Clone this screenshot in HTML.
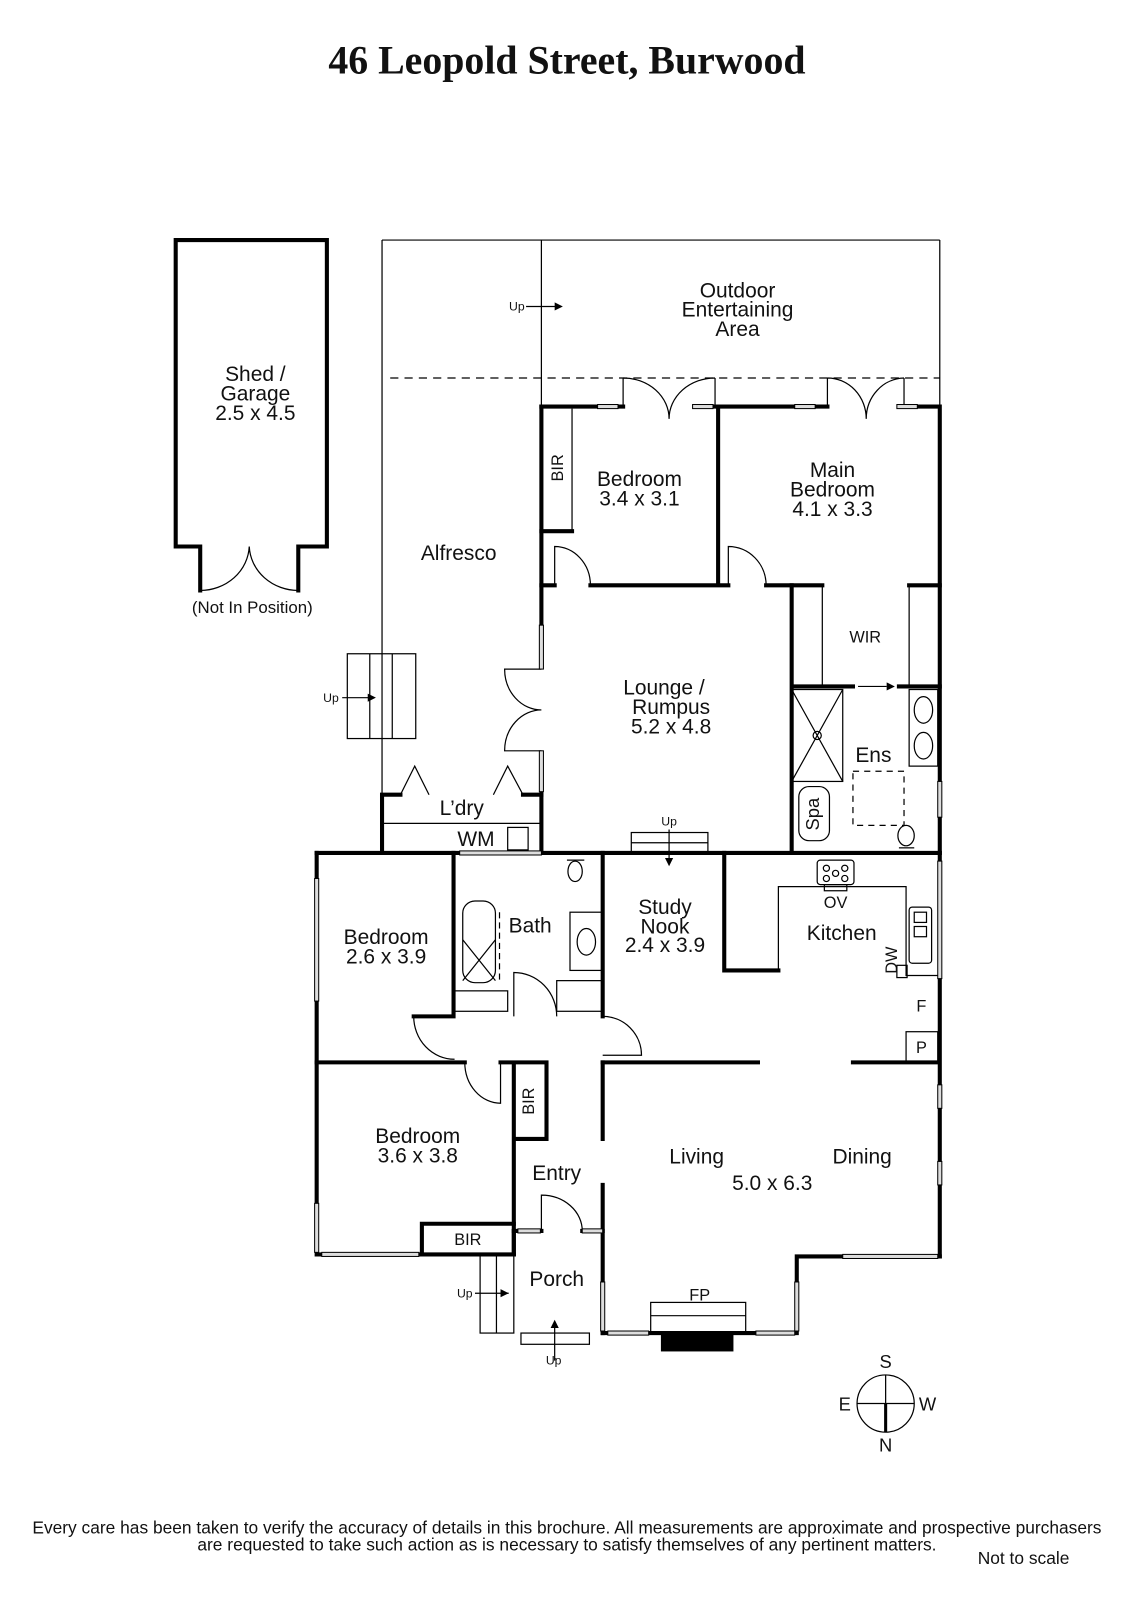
<!DOCTYPE html>
<html><head><meta charset="utf-8"><style>
html,body{margin:0;padding:0;background:#fff;}
svg{display:block}
text{font-family:"Liberation Sans",sans-serif;fill:#111;}
</style></head><body>
<svg width="1131" height="1600" viewBox="0 0 1131 1600" xmlns="http://www.w3.org/2000/svg">
<g transform="scale(1.0215)">
<text x="555" y="72" text-anchor="middle" style="font-family:'Liberation Serif',serif;font-weight:bold;font-size:39px">46 Leopold Street, Burwood</text>

<g fill="none" stroke="#000" stroke-width="4" stroke-linecap="square">
<path d="M196,578 L196,535 L172,535 L172,235 L320,235 L320,535 L292,535 L292,578"/>
</g>
<g fill="none" stroke="#000" stroke-width="1.2">
<path d="M196,578 A48,45 0 0 0 244,535 M292,578 A48,45 0 0 1 244,535"/>
<path d="M374,235 L920,235 M374,235 L374,778 M530,235 L530,398 M920,235 L920,398"/>
<path d="M382,370 L920,370" stroke-dasharray="8,6"/>
<path d="M515,300 L545,300"/>
<rect x="340" y="640" width="67" height="83"/>
<path d="M362,640 V723 M384,640 V723 M335,683 H362"/>
<path d="M610,398 V370 M700,398 V370 M610,370 A45,40 0 0 1 655,410 M700,370 A45,40 0 0 0 655,410"/>
<path d="M810,398 V370 M885,398 V370 M810,370 A38,40 0 0 1 848,410 M885,370 A38,40 0 0 0 848,410"/>
<path d="M530,655 H494 A36,40 0 0 0 530,695 M530,735 H494 A36,40 0 0 1 530,695"/>
<path d="M560,400 V520"/>
<path d="M543,573 V535 A35,38 0 0 1 578,573"/>
<path d="M713,573 V535 A37,38 0 0 1 750,573"/>
<path d="M805,573 V672 M890,573 V672"/>
<path d="M840,672 H868"/>
<rect x="775" y="675" width="50" height="90"/>
<path d="M775,675 L825,765 M825,675 L775,765"/>
<circle cx="800" cy="720" r="4"/>
<rect x="890" y="675" width="28" height="75"/>
<ellipse cx="904" cy="695" rx="9" ry="13"/><ellipse cx="904" cy="730" rx="9" ry="13"/>
<rect x="782" y="770" width="30" height="53" rx="10"/>
<path d="M835,755 H885 V808 H835 Z" stroke-dasharray="6,5"/>
<ellipse cx="887" cy="818" rx="8" ry="10"/><path d="M880,830 H895"/>
<path d="M374,806 H530"/>
<path d="M392,778 L406,750 L420,778 M483,778 L497,750 L512,778"/>
<rect x="497" y="810" width="20" height="22"/>
<rect x="618" y="815" width="75" height="20"/><path d="M618,825 H693 M655,812 V842"/>
<rect x="453" y="882" width="32" height="80" rx="12"/>
<path d="M453,920 L485,960 M485,920 L453,960"/>
<path d="M489,893 V962" stroke-dasharray="6,4"/>
<rect x="558" y="893" width="32" height="57"/><ellipse cx="574" cy="922" rx="9" ry="13"/>
<ellipse cx="563" cy="853" rx="7" ry="10"/><path d="M555,842 H572"/>
<rect x="444" y="970" width="53" height="20"/>
<rect x="545" y="960" width="45" height="30"/>
<path d="M503,995 V952 A42,43 0 0 1 545,995"/>
<path d="M590,995 A38,38 0 0 1 628,1033 H590"/>
<path d="M405,995 A40,42 0 0 0 445,1037"/>
<path d="M490,1040 V1080 A35,40 0 0 1 455,1040"/>
<path d="M762,950 V868 H887 V955 H918"/>
<rect x="800" y="842" width="36" height="24" rx="3"/>
<circle cx="809" cy="850" r="3"/><circle cx="827" cy="850" r="3"/><circle cx="809" cy="860" r="3"/><circle cx="827" cy="860" r="3"/><circle cx="818" cy="855" r="3"/>
<rect x="807" y="866" width="22" height="6"/>
<rect x="890" y="888" width="22" height="55" rx="3"/>
<rect x="895" y="893" width="12" height="10"/><rect x="895" y="907" width="12" height="10"/>
<rect x="878" y="945" width="10" height="12"/>
<rect x="887" y="1010" width="31" height="30"/>
<path d="M530,1205 V1170 A40,35 0 0 1 570,1205"/>
<rect x="470" y="1228" width="33" height="77"/><path d="M486,1228 V1305 M465,1266 H498"/>
<rect x="510" y="1305" width="67" height="11"/><path d="M543,1332 V1295"/>
<rect x="637" y="1275" width="93" height="30"/><path d="M637,1288 H730"/>
<circle cx="867" cy="1374" r="28"/><path d="M839,1374 H895 M867,1346 V1374"/>
</g>
<rect x="647" y="1305" width="71" height="18" fill="#000"/>
<path d="M867,1374 V1402" stroke="#000" stroke-width="3"/>
<g fill="#000">
<path d="M551,300 l-8,-4 v8z M368,683 l-8,-4 v8z M876,672 l-8,-4 v8z M655,848 l-4,-8 h8z M498,1266 l-8,-4 v8z M543,1292 l-4,8 h8z"/>
</g>

<g fill="none" stroke="#000" stroke-width="4" stroke-linecap="square">
<path d="M530,398 H610 M700,398 H810 M885,398 H920 V835"/>
<path d="M530,398 V612 M530,775 V835"/>
<path d="M530,520 H560"/>
<path d="M530,573 H543 M578,573 H700 M703,398 V573 M713,573 H700 M750,573 H805 M890,573 H920"/>
<path d="M775,573 V835 M775,672 H835 M880,672 H920"/>
<path d="M374,778 V835 M374,778 H392 M512,778 H530"/>
<path d="M310,835 H920"/>
<path d="M310,835 V1228 H503"/>
<path d="M444,835 V995 H405 M310,1040 H455 M490,1040 H535 V1115 H503 M503,1040 V1228"/>
<path d="M413,1198 H503 M413,1198 V1228"/>
<path d="M590,835 V995 M590,1040 V1115 M590,1160 V1305"/>
<path d="M503,1205 V1228 M590,1040 H742 M835,1040 H918 M920,835 V1230"/>
<path d="M709,835 V950 H762"/>
<path d="M590,1305 H780 V1230 H920"/>
<path d="M503,1205 H530 M570,1205 H590"/>
</g>
<g fill="#ddd" stroke="#000" stroke-width="1">
<rect x="585" y="396" width="20" height="4"/><rect x="678" y="396" width="20" height="4"/>
<rect x="778" y="396" width="20" height="4"/><rect x="878" y="396" width="20" height="4"/>
<rect x="528" y="612" width="4" height="43"/><rect x="528" y="735" width="4" height="40"/>
<rect x="918" y="765" width="4" height="35"/>
<rect x="450" y="833" width="80" height="4"/>
<rect x="308" y="860" width="4" height="120"/><rect x="308" y="1178" width="4" height="48"/>
<rect x="315" y="1226" width="95" height="4"/>
<rect x="918" y="843" width="4" height="115"/><rect x="918" y="1062" width="4" height="23"/><rect x="918" y="1137" width="4" height="23"/>
<rect x="825" y="1228" width="93" height="4"/>
<rect x="595" y="1303" width="40" height="4"/><rect x="740" y="1303" width="38" height="4"/>
<rect x="778" y="1255" width="4" height="48"/><rect x="588" y="1255" width="4" height="48"/>
<rect x="507" y="1203" width="22" height="4"/><rect x="570" y="1203" width="20" height="4"/>
</g>

<g font-size="20.5" text-anchor="middle">
<text x="250" y="373">Shed /</text><text x="250" y="392">Garage</text><text x="250" y="411">2.5 x 4.5</text>
<text x="247" y="600" font-size="16.5">(Not In Position)</text>
<text x="722" y="291">Outdoor</text><text x="722" y="310">Entertaining</text><text x="722" y="329">Area</text>
<text x="449" y="548">Alfresco</text>
<text x="626" y="476">Bedroom</text><text x="626" y="495">3.4 x 3.1</text>
<text x="815" y="467">Main</text><text x="815" y="486">Bedroom</text><text x="815" y="505">4.1 x 3.3</text>
<text x="847" y="629" font-size="16">WIR</text>
<text x="650" y="680">Lounge /</text><text x="657" y="699">Rumpus</text><text x="657" y="718">5.2 x 4.8</text>
<text x="855" y="746">Ens</text>
<text x="452" y="798">L’dry</text>
<text x="466" y="828">WM</text>
<text x="378" y="924">Bedroom</text><text x="378" y="943">2.6 x 3.9</text>
<text x="519" y="913">Bath</text>
<text x="651" y="895">Study</text><text x="651" y="914">Nook</text><text x="651" y="932">2.4 x 3.9</text>
<text x="824" y="920">Kitchen</text>
<text x="818" y="889" font-size="16">OV</text>
<text x="902" y="990" font-size="16">F</text><text x="902" y="1031" font-size="16">P</text>
<text x="409" y="1119">Bedroom</text><text x="409" y="1138">3.6 x 3.8</text>
<text x="545" y="1155">Entry</text>
<text x="682" y="1139">Living</text><text x="844" y="1139">Dining</text><text x="756" y="1165">5.0 x 6.3</text>
<text x="458" y="1219" font-size="16">BIR</text>
<text x="545" y="1259">Porch</text>
<text x="685" y="1273" font-size="16">FP</text>
<text x="867" y="1339" font-size="18">S</text><text x="827" y="1381" font-size="18">E</text><text x="908" y="1381" font-size="18">W</text><text x="867" y="1421" font-size="18">N</text>
</g>
<g font-size="12" text-anchor="middle">
<text x="506" y="304">Up</text><text x="324" y="687">Up</text><text x="655" y="808">Up</text>
<text x="455" y="1270">Up</text><text x="542" y="1336">Up</text>
</g>
<g font-size="16" text-anchor="middle">
<text transform="translate(551,458) rotate(-90)">BIR</text>
<text transform="translate(523,1078) rotate(-90)">BIR</text>
<text transform="translate(802,797) rotate(-90)" font-size="18">Spa</text>
<text transform="translate(878,940) rotate(-90)">DW</text>
</g>
<g font-size="17" text-anchor="middle">
<text x="555" y="1501">Every care has been taken to verify the accuracy of details in this brochure.  All measurements are approximate and prospective purchasers</text>
<text x="555" y="1518">are requested to take such action as is necessary to satisfy themselves of any pertinent matters.</text>
<text x="1002" y="1531">Not to scale</text>
</g>
</g>
</svg>
</body></html>
